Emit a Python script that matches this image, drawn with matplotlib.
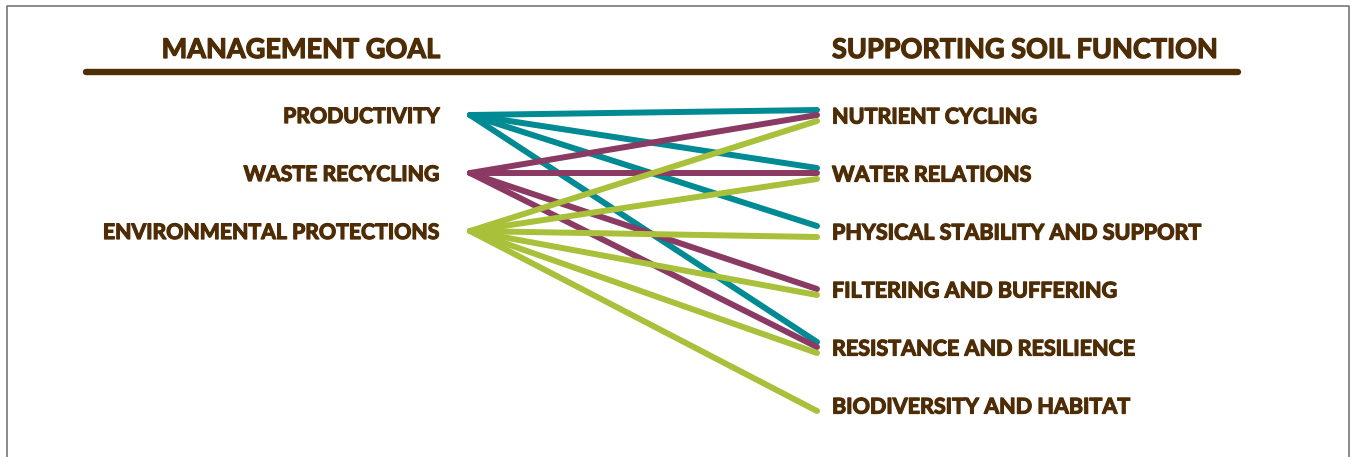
import matplotlib
matplotlib.use("Agg")
import matplotlib.pyplot as plt
import matplotlib.patheffects as pe

# ---- data ----
goals = ["PRODUCTIVITY", "WASTE RECYCLING", "ENVIRONMENTAL PROTECTIONS"]
functions = ["NUTRIENT CYCLING", "WATER RELATIONS", "PHYSICAL STABILITY AND SUPPORT",
             "FILTERING AND BUFFERING", "RESISTANCE AND RESILIENCE", "BIODIVERSITY AND HABITAT"]
links_productivity = ["NUTRIENT CYCLING", "WATER RELATIONS", "PHYSICAL STABILITY AND SUPPORT",
                      "RESISTANCE AND RESILIENCE"]
links_waste = ["NUTRIENT CYCLING", "WATER RELATIONS", "FILTERING AND BUFFERING",
               "RESISTANCE AND RESILIENCE"]
links_environment = ["NUTRIENT CYCLING", "WATER RELATIONS", "PHYSICAL STABILITY AND SUPPORT",
                     "FILTERING AND BUFFERING", "RESISTANCE AND RESILIENCE", "BIODIVERSITY AND HABITAT"]
header_left = "MANAGEMENT GOAL"
header_right = "SUPPORTING SOIL FUNCTION"

# ---- style ----
W, H = 1351, 457
brown = "#4e2c05"
colors = ["#008a93", "#8a3a63", "#a8c03a"]
offsets = [-5, 0, 6]  # vertical offset of each goal's line ends at the right
font = ["Lato", "DejaVu Sans"]
heavy = [pe.withStroke(linewidth=0.9, foreground=brown)]

fig = plt.figure(figsize=(W / 100, H / 100), dpi=100)
ax = fig.add_axes([0, 0, 1, 1])
ax.set_xlim(0, W)
ax.set_ylim(H, 0)
ax.axis("off")

# frame
ax.plot([6.5, 6.5, 1348.5, 1348.5], [H + 5, 5.5, 5.5, H + 5], color="#777777", lw=1.2,
        solid_capstyle="butt")

# headers
ax.text(440, 50, header_left, ha="right", va="center", color=brown, fontsize=19.5,
        fontweight="bold", family=font, path_effects=heavy)
ax.text(832, 50, header_right, ha="left", va="center", color=brown, fontsize=19.5,
        fontweight="bold", family=font, path_effects=heavy)
ax.plot([86, 1238], [72, 72], color=brown, lw=4.6, solid_capstyle="round")

left_x, right_x = 470, 817
y0, dy = 115, 58
text_shift = 2
goal_y = {g: y0 + i * dy for i, g in enumerate(goals)}
func_y = {f: y0 + i * dy for i, f in enumerate(functions)}

for g in goals:
    ax.text(440, goal_y[g] + text_shift, g, ha="right", va="center", color=brown, fontsize=15.3,
            fontweight="bold", family=font, path_effects=heavy)
for f in functions:
    ax.text(832, func_y[f] + text_shift, f, ha="left", va="center", color=brown, fontsize=15.5,
            fontweight="bold", family=font, path_effects=heavy)

all_links = [links_productivity, links_waste, links_environment]
for gi, (g, links) in enumerate(zip(goals, all_links)):
    for f in links:
        ax.plot([left_x, right_x], [goal_y[g], func_y[f] + offsets[gi]],
                color=colors[gi], lw=4.3, solid_capstyle="round", zorder=2 + gi * 0.1)

fig.savefig("out.png", dpi=100, facecolor="white")
